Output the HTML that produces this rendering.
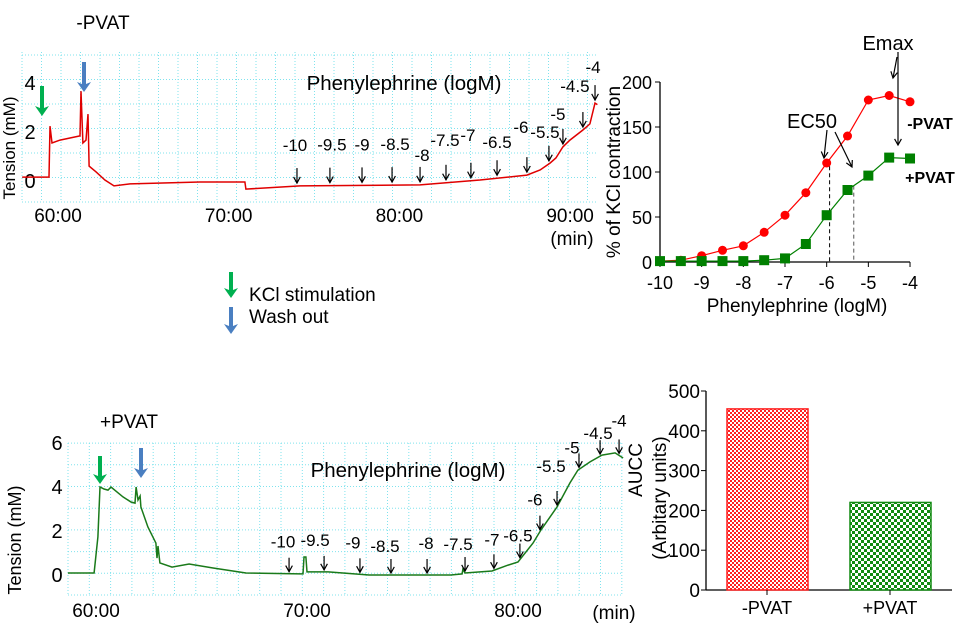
<!DOCTYPE html>
<html><head><meta charset="utf-8"><style>
body{margin:0;background:#fff;}
svg{display:block;font-family:"Liberation Sans",sans-serif;}
</style></head><body>
<svg id="fig" width="960" height="635" viewBox="0 0 960 635">
<defs>
<pattern id="redChk" width="4" height="4" patternUnits="userSpaceOnUse"><rect width="4" height="4" fill="#ff2020"/><rect width="2" height="2" fill="#fff"/><rect x="2" y="2" width="2" height="2" fill="#fff"/></pattern>
<pattern id="grnChk" width="6" height="6" patternUnits="userSpaceOnUse"><rect width="6" height="6" fill="#118a11"/><rect width="3" height="3" fill="#fff"/><rect x="3" y="3" width="3" height="3" fill="#fff"/></pattern>
</defs>
<g id="topTrace"></g>
<g id="botTrace"></g>
<g id="dose"></g>
<g id="bar"></g>
<g id="legend"></g>
</svg>
<script>
// ---- top trace (-PVAT) ----
const topTimes=[57.9,59.47,59.53,59.65,60.12,61.29,61.35,61.46,61.64,61.76,61.82,62.23,62.75,63.28,64.22,68.32,70.95,71.01,74.18,81.21,84.72,87.47,88.24,88.82,89.17,89.58,89.99,90.75,91.16,91.46,91.6];
const topValues=[0.16,0.16,2.24,1.55,1.67,1.84,3.67,1.55,1.67,2.73,0.61,0.37,0.04,-0.2,-0.12,-0.04,-0.04,-0.33,-0.2,-0.16,0.04,0.24,0.45,0.73,0.94,1.39,1.67,2.08,2.33,3.18,3.12];
const topDoseTimes=[74.0,75.93,77.81,79.57,81.21,82.73,84.19,85.72,87.47,88.76,89.58,90.75,91.46];
const topDoseLabels=["-10","-9.5","-9","-8.5","-8","-7.5","-7","-6.5","-6","-5.5","-5","-4.5","-4"];
const topTickTimes=[60,70,80,90];
const topTickLabels=["60:00","70:00","80:00","90:00"];
const topYTicks=[0,2,4];
// ---- bottom trace (+PVAT) ----
const botTimes=[58.67,59.91,60.09,60.19,60.38,60.57,60.71,61.28,61.66,61.85,61.9,61.99,62.09,62.13,62.46,62.84,62.89,62.94,63.03,63.6,64.41,65.55,67.11,69.67,69.81,69.86,69.95,70.0,71.0,72.94,76.82,77.35,77.39,77.49,78.77,79.53,80.0,80.71,81.09,81.85,82.46,82.84,83.41,83.98,84.6,84.98];
const botValues=[0.09,0.09,1.73,4.0,3.91,3.86,4.0,3.55,3.32,3.27,4.0,3.41,3.59,3.09,2.18,1.45,0.77,1.32,0.55,0.36,0.5,0.32,0.09,0.05,0.05,0.82,0.82,0.14,0.14,0,0,0.05,0.27,0.09,0.18,0.45,0.59,1.45,2.05,3.09,4.18,4.77,5.14,5.45,5.55,5.32];
const botDoseTimes=[69.15,70.81,72.51,73.98,75.69,77.49,78.86,80.09,81.04,81.85,82.89,83.89,84.79];
const botDoseLabels=["-10","-9.5","-9","-8.5","-8","-7.5","-7","-6.5","-6","-5.5","-5","-4.5","-4"];
const botTickTimes=[60,70,80];
const botTickLabels=["60:00","70:00","80:00"];
const botYTicks=[0,2,4,6];
// ---- dose response ----
const doseX=[-10,-9.5,-9,-8.5,-8,-7.5,-7,-6.5,-6,-5.5,-5,-4.5,-4];
const minusPVAT=[1,2,7,13,18,33,52,77,110,140,180,185,178];
const plusPVAT=[1,1,1,1,1,2,4,20,52,80,96,116,115];
const doseXTicks=[-10,-9,-8,-7,-6,-5,-4];
const doseYTicks=[0,50,100,150,200];
const ec50Minus=-5.93, ec50Plus=-5.35;
// ---- bar chart ----
const barCats=["-PVAT","+PVAT"];
const barVals=[455,220];
const barYTicks=[0,100,200,300,400,500];

const NS="http://www.w3.org/2000/svg";
function mk(parent,tag,attrs,name,text){const e=document.createElementNS(NS,tag);for(const k in attrs)e.setAttribute(k,attrs[k]);


if(text!==undefined)e.textContent=text;parent.appendChild(e);return e;}
function interp(ts,vs,t){for(let i=1;i<ts.length;i++){if(t<=ts[i]){const f=(t-ts[i-1])/(ts[i]-ts[i-1]);return vs[i-1]+f*(vs[i]-vs[i-1]);}}return vs[vs.length-1];}
function arrowLine(g,x1,y1,x2,y2,name){
  mk(g,'line',{x1:x1,y1:y1,x2:x2,y2:y2,stroke:'#000','stroke-width':1.2},name);
  const a=Math.atan2(y2-y1,x2-x1),L=7,w=0.5;
  const p1=[x2-L*Math.cos(a-w),y2-L*Math.sin(a-w)],p2=[x2-L*Math.cos(a+w),y2-L*Math.sin(a+w)];
  mk(g,'path',{d:`M${p1[0].toFixed(1)},${p1[1].toFixed(1)} L${x2},${y2} L${p2[0].toFixed(1)},${p2[1].toFixed(1)}`,fill:'none',stroke:'#000','stroke-width':1.2},name+'-head');
}

function tracePanel(g,o){
  for(let x=o.gx0;x<=o.gx1+0.5;x+=o.gdx) mk(g,'line',{x1:x,y1:o.gy0,x2:x,y2:o.gy1,stroke:'#7fe3ee','stroke-width':1,'stroke-dasharray':'1,2'},'grid-line-v');
  for(let y=o.gy1;y>=o.gy0-0.5;y-=o.gdy) mk(g,'line',{x1:o.gx0,y1:y,x2:o.gx1,y2:y,stroke:'#7fe3ee','stroke-width':1,'stroke-dasharray':'1,2'},'grid-line-h');
  o.yTicks.forEach(v=>mk(g,'text',{x:o.ylx,y:o.y(v)+7,'font-size':20,'text-anchor':'middle'},'y-tick-label',String(v)));
  o.xTicks.forEach((t,i)=>mk(g,'text',{x:o.x(t),y:o.xly,'font-size':19,'text-anchor':'middle'},'x-tick-label',o.xLabels[i]));
  const d=o.times.map((t,i)=>(i?'L':'M')+o.x(t).toFixed(1)+','+o.y(o.vals[i]).toFixed(1)).join(' ');
  mk(g,'path',{d:d,fill:'none',stroke:o.color,'stroke-width':1.5},'tension-trace');
  o.doseT.forEach((t,i)=>{const x=o.x(t);const tip=o.y(interp(o.times,o.vals,t))-o.gap;const top=tip-o.alen;
    arrowLine(g,x,top,x,tip,'dose-arrow');
    mk(g,'text',{x:x+o.ldx[i],y:top-o.ldy[i]+6,'font-size':17,'text-anchor':'middle'},'dose-label',o.doseL[i]);});
}
function bigArrow(g,x,y0,y1,color,name){
  mk(g,'path',{d:`M${x},${y1} L${x-7},${y1-10} L${x-2},${y1-8} L${x-2},${y0} L${x+2},${y0} L${x+2},${y1-8} L${x+7},${y1-10} Z`,fill:color},name);
}

(function(){
  const g=document.getElementById('topTrace');
  const x=t=>58+(t-60)*17.07, y=v=>181-v*24.5;
  tracePanel(g,{gx0:22,gx1:598,gdx:19.5,gy0:52,gy1:202,gdy:24.5,yTicks:topYTicks,ylx:30,x:x,y:y,xTicks:topTickTimes,xLabels:topTickLabels,xly:222,
    times:topTimes,vals:topValues,color:'#e00000',doseT:topDoseTimes,doseL:topDoseLabels,gap:3,alen:15,
    ldx:[-2,2,0,3,2,-1,-3,0,-6,-4,-5,-8,-2],ldy:[23,23,23,23,12,25,28,18,30,14,15,26,18]});
  mk(g,'text',{x:103,y:29,'font-size':19,'text-anchor':'middle'},'panel-title-minus-pvat','-PVAT');
  mk(g,'text',{x:404,y:90,'font-size':20.5,'text-anchor':'middle'},'drug-label','Phenylephrine (logM)');
  mk(g,'text',{x:572,y:245,'font-size':19,'text-anchor':'middle'},'x-axis-unit','(min)');
  mk(g,'text',{x:0,y:0,'font-size':17,'text-anchor':'middle',transform:'translate(15,148) rotate(-90)'},'y-axis-title','Tension (mM)');
  bigArrow(g,42,86,116,'#00b050','kcl-arrow');
  bigArrow(g,84,62,92,'#4a7fc1','washout-arrow');
})();

(function(){
  const g=document.getElementById('botTrace');
  const x=t=>96+(t-60)*21.1, y=v=>575-v*22;
  tracePanel(g,{gx0:68,gx1:623,gdx:21.3,gy0:443,gy1:595,gdy:21.7,yTicks:botYTicks,ylx:57,x:x,y:y,xTicks:botTickTimes,xLabels:botTickLabels,xly:617,
    times:botTimes,vals:botValues,color:'#1a7a1a',doseT:botDoseTimes,doseL:botDoseLabels,gap:2,alen:14,
    ldx:[-6,-9,-7,-6,-1,-7,-2,-2,-5,-6,-7,-2,0],ldy:[16,16,16,13,16,13,15,8,16,25,6,7,19]});
  mk(g,'text',{x:129,y:428,'font-size':19,'text-anchor':'middle'},'panel-title-plus-pvat','+PVAT');
  mk(g,'text',{x:408,y:477,'font-size':20.5,'text-anchor':'middle'},'drug-label','Phenylephrine (logM)');
  mk(g,'text',{x:614,y:619,'font-size':19,'text-anchor':'middle'},'x-axis-unit','(min)');
  mk(g,'text',{x:0,y:0,'font-size':18,'text-anchor':'middle',transform:'translate(21,540) rotate(-90)'},'y-axis-title','Tension (mM)');
  bigArrow(g,100,456,484,'#00b050','kcl-arrow');
  bigArrow(g,141,448,478,'#4a7fc1','washout-arrow');
})();

(function(){
  const g=document.getElementById('dose');
  const x=v=>660+(v+10)*41.67, y=v=>262-v*0.9;
  mk(g,'line',{x1:660,y1:82,x2:660,y2:262,stroke:'#000','stroke-width':1.3},'y-axis');
  mk(g,'line',{x1:660,y1:262,x2:910,y2:262,stroke:'#000','stroke-width':1.3},'x-axis');
  doseYTicks.forEach(v=>{mk(g,'line',{x1:655,y1:y(v),x2:660,y2:y(v),stroke:'#000'},'y-tick');
    mk(g,'text',{x:652,y:y(v)+7,'font-size':18,'text-anchor':'end'},'y-tick-label',String(v));});
  doseXTicks.forEach(v=>{mk(g,'line',{x1:x(v),y1:262,x2:x(v),y2:267,stroke:'#000'},'x-tick');
    mk(g,'text',{x:x(v),y:289,'font-size':18,'text-anchor':'middle'},'x-tick-label',String(v));});
  mk(g,'text',{x:797,y:312,'font-size':19,'text-anchor':'middle'},'x-axis-title','Phenylephrine (logM)');
  mk(g,'text',{x:0,y:0,'font-size':19,'text-anchor':'middle',transform:'translate(620,172) rotate(-90)'},'y-axis-title','% of KCl contraction');
  mk(g,'line',{x1:x(ec50Minus),y1:y(interp(doseX,minusPVAT,ec50Minus)),x2:x(ec50Minus),y2:262,stroke:'#000','stroke-dasharray':'4,3'},'ec50-minus-line');
  mk(g,'line',{x1:x(ec50Plus),y1:y(interp(doseX,plusPVAT,ec50Plus)),x2:x(ec50Plus),y2:262,stroke:'#555','stroke-dasharray':'4,3'},'ec50-plus-line');
  mk(g,'path',{d:doseX.map((v,i)=>(i?'L':'M')+x(v)+','+y(minusPVAT[i])).join(' '),fill:'none',stroke:'#ff0000','stroke-width':1.2},'line-minus-pvat');
  mk(g,'path',{d:doseX.map((v,i)=>(i?'L':'M')+x(v)+','+y(plusPVAT[i])).join(' '),fill:'none',stroke:'#008000','stroke-width':1.2},'line-plus-pvat');
  doseX.forEach((v,i)=>mk(g,'circle',{cx:x(v),cy:y(minusPVAT[i]),r:4.5,fill:'#ff0000'},'point-minus-pvat'));
  doseX.forEach((v,i)=>mk(g,'rect',{x:x(v)-5,y:y(plusPVAT[i])-5,width:10,height:10,fill:'#008000'},'point-plus-pvat'));
  mk(g,'text',{x:888,y:50,'font-size':20,'text-anchor':'middle'},'emax-label','Emax');
  mk(g,'text',{x:812,y:128,'font-size':20,'text-anchor':'middle'},'ec50-label','EC50');
  mk(g,'text',{x:930,y:129,'font-size':16,'font-weight':'bold','text-anchor':'middle'},'label-minus-pvat','-PVAT');
  mk(g,'text',{x:930,y:183,'font-size':16,'font-weight':'bold','text-anchor':'middle'},'label-plus-pvat','+PVAT');
  arrowLine(g,897,57,893,78,'emax-arrow');
  arrowLine(g,898,52,898,145,'emax-arrow-long');
  arrowLine(g,827,130,824,158,'ec50-arrow-minus');
  arrowLine(g,835,132,852,167,'ec50-arrow-plus');
})();

(function(){
  const g=document.getElementById('bar');
  const y=v=>590-v*0.398;
  const cx=[767,890];
  mk(g,'line',{x1:706,y1:391,x2:706,y2:590,stroke:'#000','stroke-width':1.3},'y-axis');
  mk(g,'line',{x1:706,y1:590,x2:952,y2:590,stroke:'#000','stroke-width':1.3},'x-axis');
  barYTicks.forEach(v=>{mk(g,'line',{x1:701,y1:y(v),x2:706,y2:y(v),stroke:'#000'},'y-tick');
    mk(g,'text',{x:700,y:y(v)+7,'font-size':19,'text-anchor':'end'},'y-tick-label',String(v));});
  barCats.forEach((c,i)=>{
    mk(g,'rect',{x:cx[i]-40,y:y(barVals[i]),width:81,height:590-y(barVals[i]),fill:i?'url(#grnChk)':'url(#redChk)',stroke:i?'#118a11':'#ff2020','stroke-width':1.5},'bar-'+(i?'plus':'minus')+'-pvat');
    mk(g,'line',{x1:cx[i],y1:590,x2:cx[i],y2:595,stroke:'#000'},'x-tick');
    mk(g,'text',{x:cx[i],y:614,'font-size':18,'text-anchor':'middle'},'x-tick-label',c);
  });
  mk(g,'text',{x:0,y:0,'font-size':19,'text-anchor':'middle',transform:'translate(642,470) rotate(-90)'},'y-axis-title','AUCC');
  mk(g,'text',{x:0,y:0,'font-size':19,'text-anchor':'middle',transform:'translate(666,498) rotate(-90)'},'y-axis-subtitle','(Arbitary units)');
})();

(function(){
  const g=document.getElementById('legend');
  bigArrow(g,231,272,298,'#00b050','legend-kcl-arrow');
  bigArrow(g,231,307,334,'#4a7fc1','legend-washout-arrow');
  mk(g,'text',{x:249,y:301,'font-size':19},'legend-kcl-text','KCl stimulation');
  mk(g,'text',{x:249,y:323,'font-size':19},'legend-washout-text','Wash out');
})();
</script>
</body></html>
